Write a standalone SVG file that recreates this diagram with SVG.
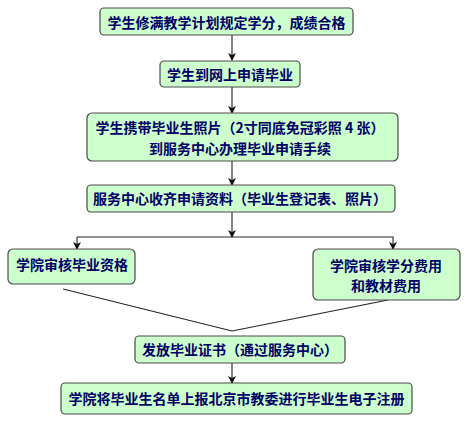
<svg xmlns="http://www.w3.org/2000/svg" width="473" height="427" viewBox="0 0 473 427">
<style>
.box{fill:#CCFFCC;stroke:#4a4a4a;stroke-width:1.2}
.t{font-family:"Noto Sans CJK SC","Liberation Sans",sans-serif;font-size:14px;font-weight:bold;fill:#000066;text-anchor:middle;dominant-baseline:central}
.ln{stroke:#222;stroke-width:1.1;fill:none}
</style>
<defs>
<marker id="ah" markerWidth="8" markerHeight="8" refX="7" refY="4" orient="auto" markerUnits="userSpaceOnUse">
<path d="M0,0 L8,4 L0,8 L2,4 Z" fill="#111"/>
</marker>
</defs>
<rect width="473" height="427" fill="#fff"/>
<g id="connectors">
<line class="ln" x1="232" y1="35" x2="232" y2="60" marker-end="url(#ah)"/>
<line class="ln" x1="232" y1="87" x2="232" y2="113" marker-end="url(#ah)"/>
<line class="ln" x1="232" y1="161" x2="232" y2="185" marker-end="url(#ah)"/>
<line class="ln" x1="232" y1="212" x2="232" y2="237" marker-end="url(#ah)"/>
<polyline class="ln" points="77,237 393,237 393,249" marker-end="url(#ah)"/>
<line class="ln" x1="77" y1="237" x2="77" y2="249" marker-end="url(#ah)"/>
<polyline class="ln" points="63,289 232,331 388,300"/>
<line class="ln" x1="232" y1="363" x2="232" y2="383" marker-end="url(#ah)"/>
</g>
<g id="n1"><rect class="box" x="100" y="8" width="253" height="27" rx="4"/><text class="t" x="226.5" y="22">学生修满教学计划规定学分，成绩合格</text></g>
<g id="n2"><rect class="box" x="160" y="61" width="140" height="26" rx="4"/><text class="t" x="230" y="74">学生到网上申请毕业</text></g>
<g id="n3"><rect class="box" x="87" y="113" width="311" height="48" rx="5"/><text class="t" x="240" y="127">学生携带毕业生照片（2寸同底免冠彩照 4 张）</text><text class="t" x="240" y="148">到服务中心办理毕业申请手续</text></g>
<g id="n4"><rect class="box" x="87" y="185" width="308" height="27" rx="4"/><text class="t" x="240" y="198">服务中心收齐申请资料（毕业生登记表、照片）</text></g>
<g id="n5"><rect class="box" x="8" y="249" width="127" height="35" rx="5"/><text class="t" x="72" y="264">学院审核毕业资格</text></g>
<g id="n6"><rect class="box" x="313" y="249" width="147" height="51" rx="5"/><text class="t" x="386" y="265">学院审核学分费用</text><text class="t" x="386" y="285">和教材费用</text></g>
<g id="n7"><rect class="box" x="135" y="336" width="210" height="27" rx="4"/><text class="t" x="240" y="349">发放毕业证书（通过服务中心）</text></g>
<g id="n8"><rect class="box" x="61" y="383" width="351" height="31" rx="4"/><text class="t" x="236.5" y="398">学院将毕业生名单上报北京市教委进行毕业生电子注册</text></g>
</svg>
